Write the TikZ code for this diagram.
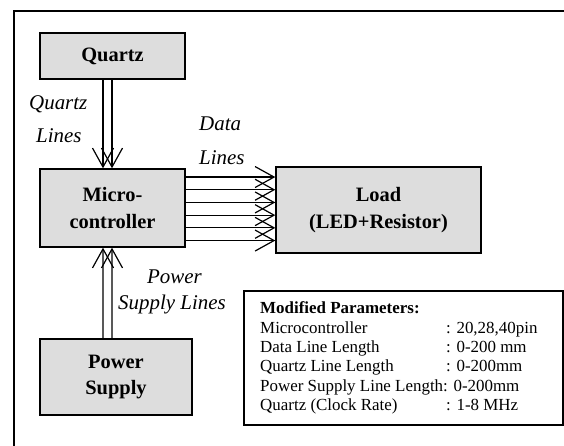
\documentclass[tikz,border=0pt]{standalone}
\usepackage{fontspec}
\setmainfont{Liberation Serif}
\usetikzlibrary{arrows.meta}
\definecolor{boxgray}{RGB}{221,221,221}
\tikzset{
  blk/.style={draw=black, line width=1.4bp, fill=boxgray, inner sep=0pt, align=center,
    font=\fontsize{20.5}{27}\selectfont\bfseries},
  arr/.style={line width=1.2bp, -{Straight Barb[length=19bp,width=21bp,line width=1.2bp]}},
  lbl/.style={anchor=base west, inner sep=0pt, font=\fontsize{21}{24}\selectfont\itshape},
  par/.style={anchor=base west, inner sep=0pt, font=\fontsize{17}{19}\selectfont},
}
\begin{document}
\begin{tikzpicture}[x=1bp, y=-1bp]
\useasboundingbox (0,0) rectangle (564,446);
% outer frame (only left and top visible)
\draw[line width=1.4bp] (14,446) -- (14,11) -- (564,11);

\node[blk, minimum width=145bp, minimum height=46bp] (quartz) at (112.5,56) {Quartz};
\node[blk, minimum width=145bp, minimum height=78bp] (mc) at (112.5,208) {Micro-\\controller};
\node[blk, minimum width=205bp, minimum height=86bp] (load) at (378.5,210) {Load\\(LED+Resistor)};
\node[blk, minimum width=152bp, minimum height=76bp] (ps) at (116,377) {Power\\Supply};

% quartz lines
\draw[arr] ([xshift=-9.5bp]quartz.south) -- ([xshift=-9.5bp]mc.north);
\draw[arr] ([xshift=-0.5bp]quartz.south) -- ([xshift=-0.5bp]mc.north);
% power supply lines
\draw[arr] ([xshift=-13bp]ps.north) -- ([xshift=-9.5bp]mc.south);
\draw[arr] ([xshift=-4bp]ps.north) -- ([xshift=-0.5bp]mc.south);
% data lines
\foreach \o [count=\i] in {31.75,19.05,6.35,-6.35,-19.05,-31.75}{
  \draw[arr] ([yshift=\o bp-0.8bp]mc.east) -- ([yshift=\o bp-0.8bp]mc.east -| load.west);
}

% labels
\node[lbl] (ql1) at (29,110) {Quartz};
\node[lbl] (ql2) at (36,143) {Lines};
\node[lbl] (dl1) at (199,131) {Data};
\node[lbl] (dl2) at (199,165) {Lines};
\node[lbl] (pl1) at (147,283) {Power};
\node[lbl] (pl2) at (118,309) {Supply Lines};

% parameters box
\node[draw=black, line width=1.4bp, fill=white, minimum width=319bp, minimum height=134bp, inner sep=0pt] (params) at (403.5,358) {};
\node[par, font=\fontsize{17}{19}\selectfont\bfseries] (p0) at (260,313) {Modified Parameters:};
\node[par] (p1) at (260,333) {Microcontroller};
\node[par] (p2) at (260,352) {Data Line Length};
\node[par] (p3) at (260,371) {Quartz Line Length};
\node[par] (p4) at (260,391) {Power Supply Line Length: 0-200mm};
\node[par] (p5) at (260,410) {Quartz (Clock Rate)};
\node[par] (v1) at (446,333) {: 20,28,40pin};
\node[par] (v2) at (446,352) {: 0-200 mm};
\node[par] (v3) at (446,371) {: 0-200mm};
\node[par] (v5) at (446,410) {: 1-8 MHz};
\end{tikzpicture}
\end{document}
